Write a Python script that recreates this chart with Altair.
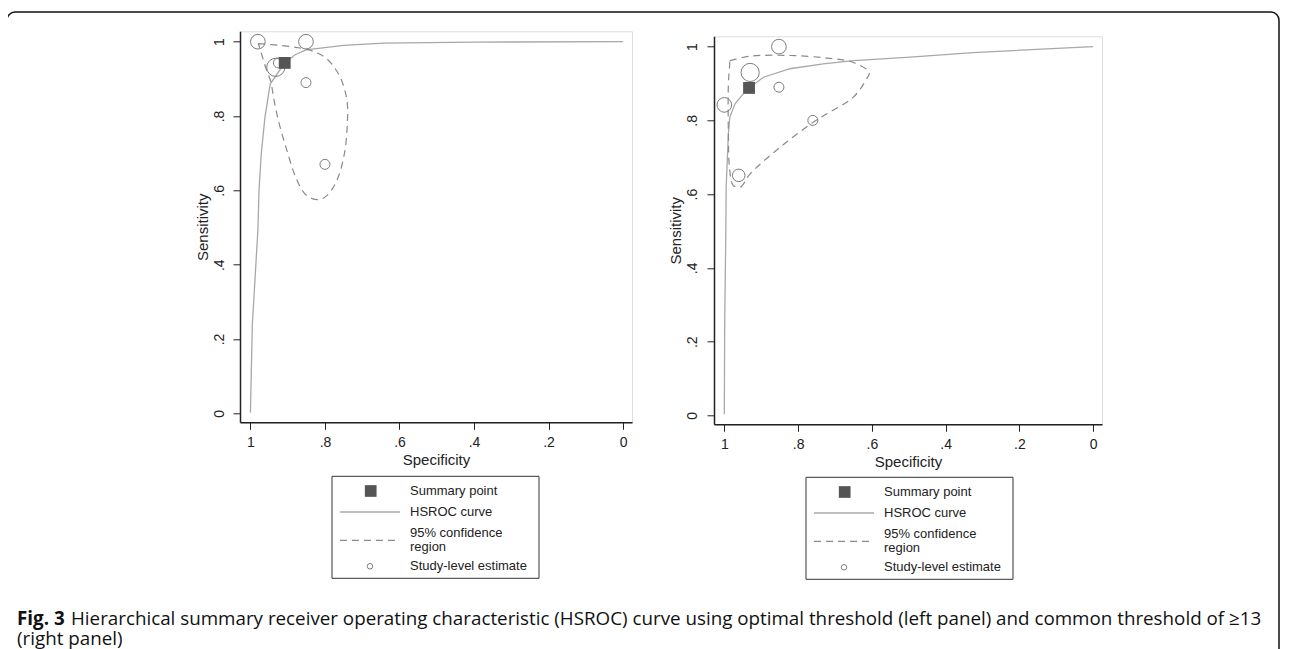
import altair as alt
import pandas as pd

# ---------------- data ----------------
TICKS = [0, 0.2, 0.4, 0.6, 0.8, 1.0]

# Left panel: optimal threshold
L_study_spec = [0.980, 0.851, 0.932, 0.925, 0.851, 0.800]
L_study_sens = [1.000, 1.000, 0.931, 0.943, 0.890, 0.670]
L_study_wt = [2, 2, 3, 1, 1, 1]
L_sum_spec = [0.908]
L_sum_sens = [0.943]
L_curve_spec = [1.000, 0.995, 0.980, 0.977, 0.971, 0.961, 0.947, 0.908, 0.880, 0.851, 0.750, 0.643, 0.401, 0.000]
L_curve_sens = [0.002, 0.237, 0.493, 0.600, 0.698, 0.797, 0.886, 0.943, 0.965, 0.978, 0.990, 0.996, 0.999, 1.000]
L_ci_spec = [0.979, 0.920, 0.867, 0.831, 0.795, 0.759, 0.741, 0.740, 0.748, 0.768, 0.795, 0.817,
             0.849, 0.875, 0.902, 0.925, 0.938, 0.945, 0.961, 0.974, 0.979]
L_ci_sens = [0.995, 0.990, 0.983, 0.974, 0.954, 0.904, 0.842, 0.779, 0.698, 0.627, 0.586, 0.575,
             0.586, 0.627, 0.707, 0.788, 0.850, 0.891, 0.936, 0.980, 0.995]

# Right panel: common threshold >=13
R_study_spec = [0.852, 0.930, 0.852, 1.000, 0.760, 0.961]
R_study_sens = [1.000, 0.930, 0.890, 0.842, 0.800, 0.651]
R_study_wt = [2, 3, 1, 2, 1, 1.5]
R_sum_spec = [0.933]
R_sum_sens = [0.888]
R_curve_spec = [1.000, 0.999, 0.996, 0.995, 0.992, 0.989, 0.985, 0.971, 0.949, 0.933, 0.894, 0.822, 0.732, 0.650, 0.506, 0.325, 0.000]
R_curve_sens = [0.003, 0.249, 0.493, 0.619, 0.691, 0.764, 0.809, 0.845, 0.872, 0.888, 0.917, 0.940, 0.953, 0.962, 0.971, 0.984, 1.000]
R_ci_spec = [0.985, 0.930, 0.822, 0.722, 0.650, 0.607, 0.614, 0.650, 0.722, 0.759, 0.849, 0.930,
             0.957, 0.976, 0.986, 0.989, 0.989, 0.986, 0.985]
R_ci_sens = [0.962, 0.974, 0.976, 0.969, 0.957, 0.930, 0.913, 0.863, 0.818, 0.795, 0.727, 0.655,
             0.619, 0.624, 0.673, 0.764, 0.899, 0.944, 0.962]

LEGEND_LABELS = ["Summary point", "HSROC curve", "95% confidence", "region", "Study-level estimate"]
X_TITLE = "Specificity"
Y_TITLE = "Sensitivity"
CAPTION_BOLD = "Fig. 3"
CAPTION_1 = ("Hierarchical summary receiver operating characteristic (HSROC) curve using optimal "
             "threshold (left panel) and common threshold of \u226513")
CAPTION_2 = "(right panel)"

# ---------------- styling ----------------
FONT = "Liberation Sans"
CAP_FONT = "Open Sans"
CAP_SIZE = 18.8
TXT = "#222222"
CURVE_COL = "#a8a8a8"
CI_COL = "#8a8a8a"
CIRC_COL = "#7a7a7a"
SUM_COL = "#555555"
LABEL_EXPR = ("datum.value == 0 ? '0' : datum.value == 1 ? '1' : "
              "replace(format(datum.value, '.1f'), '0.', '.')")
DOM = [-0.024, 1.028]
one = pd.DataFrame({"k": [0]})


def panel(s_spec, s_sens, s_wt, m_spec, m_sens, c_spec, c_sens, ci_spec, ci_sens, w, h, lx, ly, extra=()):
    x = alt.X("spec:Q", scale=alt.Scale(domain=DOM, reverse=True, nice=False, zero=False),
              axis=alt.Axis(values=TICKS, labelExpr=LABEL_EXPR, title=X_TITLE, grid=False,
                            labelFont=FONT, labelFontSize=14, labelColor=TXT, labelPadding=6,
                            tickSize=7, tickColor=TXT, domainColor=TXT, domainWidth=1.5,
                            titleFont=FONT, titleFontSize=15, titleFontWeight="normal", titleColor=TXT,
                            titleX=w / 2, titleY=37, titleBaseline="middle", titleAlign="center"))
    y = alt.Y("sens:Q", scale=alt.Scale(domain=DOM, nice=False, zero=False),
              axis=alt.Axis(values=TICKS, labelExpr=LABEL_EXPR, title=Y_TITLE, grid=False,
                            labelFont=FONT, labelFontSize=14, labelColor=TXT, labelAngle=270,
                            labelAlign="center", labelBaseline="alphabetic", labelPadding=10,
                            tickSize=7, tickColor=TXT, domainColor=TXT, domainWidth=1.5,
                            titleFont=FONT, titleFontSize=15, titleFontWeight="normal", titleColor=TXT,
                            titleAngle=270, titleX=-38, titleY=h / 2, titleBaseline="middle",
                            titleAlign="center"))

    curve = pd.DataFrame({"spec": c_spec, "sens": c_sens, "o": list(range(len(c_spec)))})
    ci = pd.DataFrame({"spec": ci_spec, "sens": ci_sens, "o": list(range(len(ci_spec)))})
    studies = pd.DataFrame({"spec": s_spec, "sens": s_sens, "wt": s_wt})
    summ = pd.DataFrame({"spec": m_spec, "sens": m_sens})

    l_curve = alt.Chart(curve).mark_line(color=CURVE_COL, strokeWidth=1.3).encode(x=x, y=y, order="o:Q")
    l_ci = alt.Chart(ci).mark_line(color=CI_COL, strokeWidth=1.2, strokeDash=[7, 5],
                                   interpolate="catmull-rom").encode(x=x, y=y, order="o:Q")
    l_st = alt.Chart(studies).mark_point(shape="circle", filled=False, color=CIRC_COL, strokeWidth=1,
                                         opacity=1).encode(
        x=x, y=y, size=alt.Size("wt:Q", scale=alt.Scale(domain=[1, 3], range=[100, 330]), legend=None))
    l_sum = alt.Chart(summ).mark_point(shape="square", filled=True, color=SUM_COL, size=140,
                                       opacity=1).encode(x=x, y=y)

    # legend box drawn below the plot
    leg = [
        alt.Chart(one).mark_rect(fill="white", stroke="#333333", strokeWidth=1).encode(
            x=alt.value(lx), x2=alt.value(lx + 207), y=alt.value(ly), y2=alt.value(ly + 102)),
        alt.Chart(one).mark_point(shape="square", filled=True, color=SUM_COL, size=137, opacity=1).encode(
            x=alt.value(lx + 38.7), y=alt.value(ly + 14.7)),
        alt.Chart(one).mark_rule(color=CURVE_COL, strokeWidth=1.3).encode(
            x=alt.value(lx + 8), x2=alt.value(lx + 68), y=alt.value(ly + 35.7)),
        alt.Chart(one).mark_rule(color=CI_COL, strokeWidth=1.2, strokeDash=[7, 5]).encode(
            x=alt.value(lx + 8), x2=alt.value(lx + 68), y=alt.value(ly + 64)),
        alt.Chart(one).mark_point(shape="circle", filled=False, color=CIRC_COL, size=30,
                                  strokeWidth=1, opacity=1).encode(
            x=alt.value(lx + 38), y=alt.value(ly + 90)),
    ]
    for lab, dy in zip(LEGEND_LABELS, [14.7, 35.7, 57, 70.5, 90]):
        leg.append(alt.Chart(one).mark_text(align="left", baseline="middle", font=FONT, fontSize=13,
                                            color=TXT).encode(
            x=alt.value(lx + 78), y=alt.value(ly + dy), text=alt.value(lab)))

    return alt.layer(*extra, l_curve, l_ci, l_st, l_sum, *leg).properties(width=w, height=h)


# figure frame and caption (attached to the left panel, in pixel offsets)
frame = [
    alt.Chart(one).mark_rect(fill="transparent", stroke="#111111", strokeWidth=1.5, cornerRadius=8).encode(
        x=alt.value(-233), x2=alt.value(1039), y=alt.value(-19.2), y2=alt.value(640)),
    alt.Chart(one).mark_text(align="left", baseline="middle", font=CAP_FONT, fontSize=CAP_SIZE,
                             fontWeight="bold", color="#111111").encode(
        x=alt.value(-223), y=alt.value(588), text=alt.value(CAPTION_BOLD)),
    alt.Chart(one).mark_text(align="left", baseline="middle", font=CAP_FONT, fontSize=CAP_SIZE,
                             color="#111111").encode(
        x=alt.value(-169), y=alt.value(588), text=alt.value(CAPTION_1)),
    alt.Chart(one).mark_text(align="left", baseline="middle", font=CAP_FONT, fontSize=CAP_SIZE,
                             color="#111111").encode(
        x=alt.value(-223), y=alt.value(608), text=alt.value(CAPTION_2)),
]

left = panel(L_study_spec, L_study_sens, L_study_wt, L_sum_spec, L_sum_sens,
             L_curve_spec, L_curve_sens, L_ci_spec, L_ci_sens, 392, 391, 92, 445, extra=frame)
right = panel(R_study_spec, R_study_sens, R_study_wt, R_sum_spec, R_sum_sens,
              R_curve_spec, R_curve_sens, R_ci_spec, R_ci_sens, 388, 388, 92, 441)

spacer = alt.Chart(one).mark_point(opacity=0).encode(x=alt.value(0), y=alt.value(0)).properties(
    width=1, height=5, view=alt.ViewBackground(strokeOpacity=0))

right_col = alt.vconcat(spacer, right, spacing=0, bounds="flush")

chart = alt.hconcat(left, right_col, spacing=82, bounds="flush").properties(
    padding={"left": -3, "top": 2.3, "right": -1, "bottom": 0}
).configure_view(stroke="#555555", strokeWidth=1).configure(background="white")

chart.save("out.html", embed_options={"renderer": "svg", "actions": False})
